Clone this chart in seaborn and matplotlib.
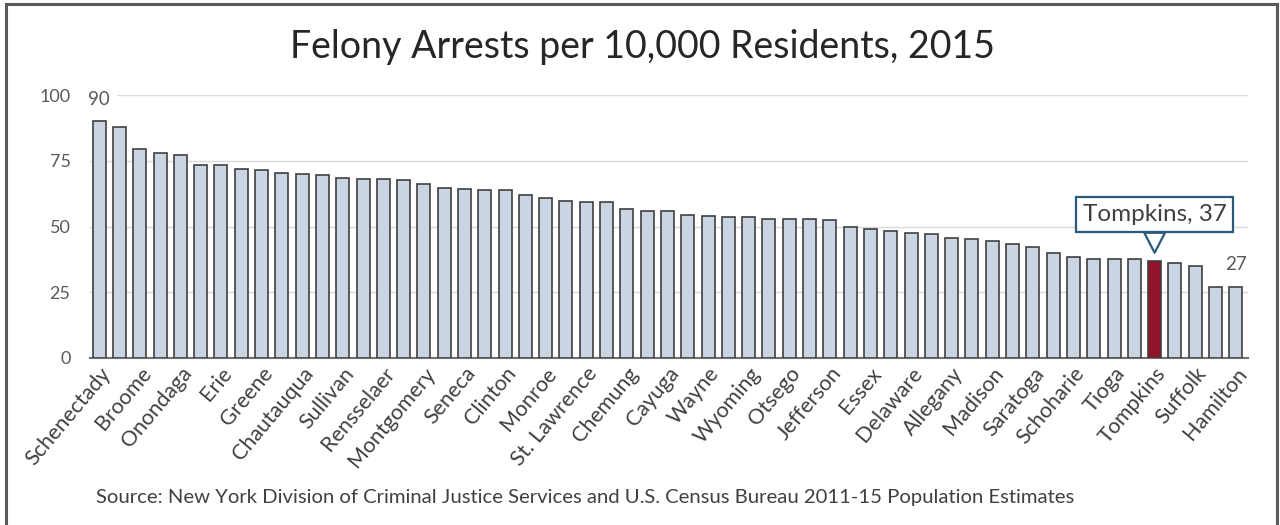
import numpy as np
import pandas as pd
import seaborn as sns
import matplotlib.pyplot as plt
from matplotlib.patches import Rectangle

# Felony arrests per 10,000 residents, sorted high to low (57 counties)
rates = [90, 88, 79.5, 78, 77, 73.5, 73.5, 72, 71.5, 70.5,
         70, 69.5, 68.5, 68, 68, 67.5, 66, 64.5, 64.2, 64,
         64, 62, 60.7, 59.8, 59.3, 59.2, 56.8, 55.8, 55.8, 54.4,
         53.9, 53.5, 53.5, 53, 53, 53, 52.5, 50, 49.2, 48.4,
         47.6, 47.1, 45.6, 45.1, 44.6, 43.3, 42.1, 39.8, 38.3, 37.8,
         37.5, 37.5, 37, 36.2, 35, 27, 27]
# only every other county is labelled on the axis
tick_labels = ["Schenectady", "Broome", "Onondaga", "Erie", "Greene",
               "Chautauqua", "Sullivan", "Rensselaer", "Montgomery",
               "Seneca", "Clinton", "Monroe", "St. Lawrence", "Chemung",
               "Cayuga", "Wayne", "Wyoming", "Otsego", "Jefferson", "Essex",
               "Delaware", "Allegany", "Madison", "Saratoga", "Schoharie",
               "Tioga", "Tompkins", "Suffolk", "Hamilton"]
y_ticks = [0, 25, 50, 75, 100]
highlight = 52  # Tompkins

plt.rcParams["font.family"] = ["Lato", "DejaVu Sans"]

df = pd.DataFrame({"pos": np.arange(len(rates)), "rate": rates})
df["grp"] = np.where(df["pos"] == highlight, "hl", "base")

fig = plt.figure(figsize=(12.8, 5.25), dpi=100)
ax = fig.add_axes([90 / 1280, 1 - 358 / 525, 1158 / 1280, 263 / 525])

sns.barplot(data=df, x="pos", y="rate", hue="grp",
            palette={"base": "#c5d5e6", "hl": "#a5001f"},
            dodge=False, width=0.64, edgecolor="#3f3f3f", linewidth=1.2,
            legend=False, ax=ax, zorder=3)

ax.set_xlim(-0.45, 56.6)
ax.set_ylim(0, 100)
ax.set_yticks(y_ticks)
ax.set_yticklabels([str(t) for t in y_ticks], fontsize=13, color="#595959")
ax.grid(axis="y", color="#d9d9d9", linewidth=1, zorder=0)
ax.set_axisbelow(True)
ax.set_xticks(df["pos"][::2])
ax.set_xticklabels(tick_labels, rotation=50, ha="right",
                   rotation_mode="anchor", fontsize=15.5, color="#404040")
ax.tick_params(axis="both", length=0)
ax.tick_params(axis="y", pad=14)
ax.tick_params(axis="x", pad=4)
ax.set_xlabel("")
ax.set_ylabel("")
for s in ["top", "right", "left"]:
    ax.spines[s].set_visible(False)
ax.spines["bottom"].set_color("#6f6f6f")
ax.spines["bottom"].set_linewidth(1.5)

# value labels at the ends
for i in [0, len(rates) - 1]:
    ax.annotate(f"{rates[i]:.0f}", (i, rates[i]), xytext=(0, 16),
                textcoords="offset points", ha="center", va="center",
                fontsize=13.5, color="#595959", annotation_clip=False,
                bbox=dict(boxstyle="square,pad=0.35", fc="white", ec="none"))

# callout for Tompkins
ax.annotate(f"{tick_labels[highlight // 2]}, {rates[highlight]:.0f}",
            xy=(highlight, rates[highlight] + 3), xytext=(highlight, 54.5),
            ha="center", va="center", fontsize=17.5, color="#404040",
            bbox=dict(boxstyle="square,pad=0.28", fc="white",
                      ec="#2a5a7a", lw=1.6),
            arrowprops=dict(arrowstyle="wedge,tail_width=0.85", fc="white",
                            ec="#2a5a7a", lw=1.6, shrinkA=0, shrinkB=0),
            zorder=5)

fig.text(642 / 1280, 1 - 47 / 525, "Felony Arrests per 10,000 Residents, 2015",
         ha="center", va="center", fontsize=27, color="#262626")
fig.text(585 / 1280, 1 - 497 / 525,
         "Source: New York Division of Criminal Justice Services and U.S. "
         "Census Bureau 2011-15 Population Estimates",
         ha="center", va="center", fontsize=14.6, color="#404040")

# outer frame
fig.patches.append(Rectangle((6 / 1280, -0.05), 1271 / 1280, 1.05 - 4 / 525,
                             transform=fig.transFigure, fill=False,
                             ec="#5a5a5a", lw=2.2))

fig.savefig("out.png", dpi=100)
